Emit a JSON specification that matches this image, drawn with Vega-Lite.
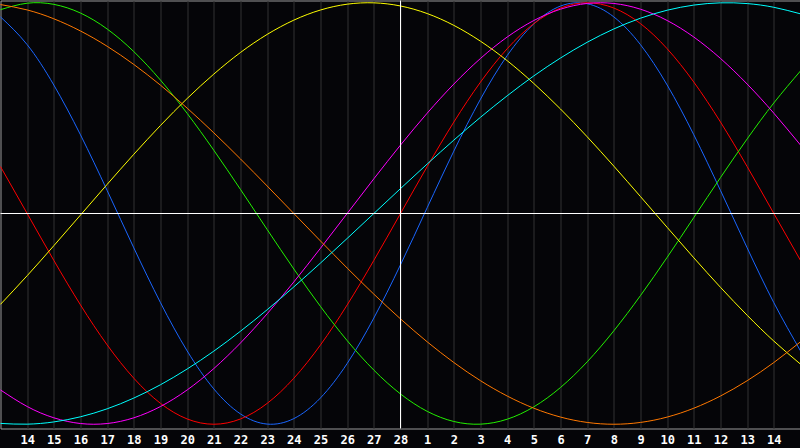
{
  "$schema": "https://vega.github.io/schema/vega-lite/v6.json",
  "autosize": "none",
  "padding": {"left": 0.5, "top": 0.5, "right": 0, "bottom": 19.5},
  "width": 800,
  "height": 428,
  "background": "#050508",
  "config": {
    "view": {"stroke": "#9a9a9a", "strokeWidth": 1, "fill": "#050508"},
    "axisX": {
      "title": null,
      "domain": false,
      "ticks": false,
      "tickSize": 0,
      "grid": true,
      "gridColor": "#333333",
      "gridOpacity": 1,
      "labelColor": "#ffffff",
      "labelFont": "DejaVu Sans Mono",
      "labelFontWeight": "bold",
      "labelFontSize": 12,
      "labelBaseline": "middle",
      "labelPadding": 11,
      "labelFlush": false,
      "labelOverlap": false
    }
  },
  "layer": [
    {
      "data": {
        "values": [
          {"day": 0, "Physical": 0.9327, "Emotional": 0.2225, "Intellectual": 0.9671, "Intuitive": -0.8372, "Aesthetic": -0.4310, "Awareness": 0.9914, "Spiritual": -0.9961},
          {"day": 1, "Physical": 0.8011, "Emotional": 0, "Intellectual": 0.9978, "Intuitive": -0.9158, "Aesthetic": -0.2951, "Awareness": 0.9659, "Spiritual": -0.9996},
          {"day": 2, "Physical": 0.6095, "Emotional": -0.2225, "Intellectual": 0.9924, "Intuitive": -0.9694, "Aesthetic": -0.1528, "Awareness": 0.9239, "Spiritual": -0.9890},
          {"day": 3, "Physical": 0.3732, "Emotional": -0.4339, "Intellectual": 0.9511, "Intuitive": -0.9966, "Aesthetic": -0.0073, "Awareness": 0.8660, "Spiritual": -0.9646},
          {"day": 4, "Physical": 0.1090, "Emotional": -0.6235, "Intellectual": 0.8754, "Intuitive": -0.9966, "Aesthetic": 0.1383, "Awareness": 0.7934, "Spiritual": -0.9267},
          {"day": 5, "Physical": -0.1632, "Emotional": -0.7818, "Intellectual": 0.7681, "Intuitive": -0.9694, "Aesthetic": 0.2811, "Awareness": 0.7071, "Spiritual": -0.8757},
          {"day": 6, "Physical": -0.4232, "Emotional": -0.9010, "Intellectual": 0.6328, "Intuitive": -0.9158, "Aesthetic": 0.4178, "Awareness": 0.6088, "Spiritual": -0.8125},
          {"day": 7, "Physical": -0.6521, "Emotional": -0.9749, "Intellectual": 0.4750, "Intuitive": -0.8372, "Aesthetic": 0.5457, "Awareness": 0.5, "Spiritual": -0.7378},
          {"day": 8, "Physical": -0.8324, "Emotional": -1, "Intellectual": 0.2999, "Intuitive": -0.7357, "Aesthetic": 0.6616, "Awareness": 0.3827, "Spiritual": -0.6530},
          {"day": 9, "Physical": -0.9511, "Emotional": -0.9749, "Intellectual": 0.1140, "Intuitive": -0.6142, "Aesthetic": 0.7641, "Awareness": 0.2588, "Spiritual": -0.5585},
          {"day": 10, "Physical": -0.9992, "Emotional": -0.9010, "Intellectual": -0.0760, "Intuitive": -0.4759, "Aesthetic": 0.8498, "Awareness": 0.1305, "Spiritual": -0.4566},
          {"day": 11, "Physical": -0.9732, "Emotional": -0.7818, "Intellectual": -0.2634, "Intuitive": -0.3247, "Aesthetic": 0.9175, "Awareness": 0, "Spiritual": -0.3482},
          {"day": 12, "Physical": -0.8750, "Emotional": -0.6235, "Intellectual": -0.4412, "Intuitive": -0.1646, "Aesthetic": 0.9656, "Awareness": -0.1305, "Spiritual": -0.2350},
          {"day": 13, "Physical": -0.7118, "Emotional": -0.4339, "Intellectual": -0.6032, "Intuitive": 0, "Aesthetic": 0.9932, "Awareness": -0.2588, "Spiritual": -0.1184},
          {"day": 14, "Physical": -0.4960, "Emotional": -0.2225, "Intellectual": -0.7431, "Intuitive": 0.1646, "Aesthetic": 0.9996, "Awareness": -0.3827, "Spiritual": 0},
          {"day": 15, "Physical": -0.2434, "Emotional": 0, "Intellectual": -0.8563, "Intuitive": 0.3247, "Aesthetic": 0.9847, "Awareness": -0.5, "Spiritual": 0.1182},
          {"day": 16, "Physical": 0.0273, "Emotional": 0.2225, "Intellectual": -0.9387, "Intuitive": 0.4759, "Aesthetic": 0.9488, "Awareness": -0.6088, "Spiritual": 0.2348},
          {"day": 17, "Physical": 0.2960, "Emotional": 0.4339, "Intellectual": -0.9869, "Intuitive": 0.6142, "Aesthetic": 0.8927, "Awareness": -0.7071, "Spiritual": 0.3482},
          {"day": 18, "Physical": 0.5427, "Emotional": 0.6235, "Intellectual": -0.9996, "Intuitive": 0.7357, "Aesthetic": 0.8175, "Awareness": -0.7934, "Spiritual": 0.4566},
          {"day": 19, "Physical": 0.7492, "Emotional": 0.7818, "Intellectual": -0.9761, "Intuitive": 0.8372, "Aesthetic": 0.7252, "Awareness": -0.8660, "Spiritual": 0.5585},
          {"day": 20, "Physical": 0.9000, "Emotional": 0.9010, "Intellectual": -0.9174, "Intuitive": 0.9158, "Aesthetic": 0.6168, "Awareness": -0.9239, "Spiritual": 0.6530},
          {"day": 21, "Physical": 0.9843, "Emotional": 0.9749, "Intellectual": -0.8256, "Intuitive": 0.9694, "Aesthetic": 0.4958, "Awareness": -0.9659, "Spiritual": 0.7378},
          {"day": 22, "Physical": 0.9954, "Emotional": 1, "Intellectual": -0.7039, "Intuitive": 0.9966, "Aesthetic": 0.3641, "Awareness": -0.9914, "Spiritual": 0.8125},
          {"day": 23, "Physical": 0.9328, "Emotional": 0.9749, "Intellectual": -0.5565, "Intuitive": 0.9966, "Aesthetic": 0.2246, "Awareness": -1, "Spiritual": 0.8757},
          {"day": 24, "Physical": 0.8010, "Emotional": 0.9010, "Intellectual": -0.3893, "Intuitive": 0.9694, "Aesthetic": 0.0802, "Awareness": -0.9914, "Spiritual": 0.9267},
          {"day": 25, "Physical": 0.6097, "Emotional": 0.7818, "Intellectual": -0.2079, "Intuitive": 0.9158, "Aesthetic": -0.0658, "Awareness": -0.9659, "Spiritual": 0.9646},
          {"day": 26, "Physical": 0.3733, "Emotional": 0.6235, "Intellectual": -0.0190, "Intuitive": 0.8372, "Aesthetic": -0.2103, "Awareness": -0.9239, "Spiritual": 0.9890},
          {"day": 27, "Physical": 0.1091, "Emotional": 0.4339, "Intellectual": 0.1706, "Intuitive": 0.7357, "Aesthetic": -0.3504, "Awareness": -0.8660, "Spiritual": 0.9996},
          {"day": 28, "Physical": -0.1631, "Emotional": 0.2225, "Intellectual": 0.3540, "Intuitive": 0.6142, "Aesthetic": -0.4829, "Awareness": -0.7934, "Spiritual": 0.9961},
          {"day": 29, "Physical": -0.4232, "Emotional": 0, "Intellectual": 0.5246, "Intuitive": 0.4759, "Aesthetic": -0.6054, "Awareness": -0.7071, "Spiritual": 0.9785},
          {"day": 30, "Physical": -0.6519, "Emotional": -0.2225, "Intellectual": 0.6764, "Intuitive": 0.3247, "Aesthetic": -0.7148, "Awareness": -0.6088, "Spiritual": 0.9473}
        ]
      },
      "transform": [
        {"fold": ["Physical", "Emotional", "Intellectual", "Intuitive", "Aesthetic", "Awareness", "Spiritual"], "as": ["series", "value"]}
      ],
      "mark": {"type": "line", "strokeWidth": 1, "interpolate": "natural"},
      "encoding": {
        "x": {
          "field": "day",
          "type": "quantitative",
          "scale": {"domain": [0, 30], "nice": false, "zero": false},
          "axis": {
            "values": [1, 2, 3, 4, 5, 6, 7, 8, 9, 10, 11, 12, 13, 14, 15, 16, 17, 18, 19, 20, 21, 22, 23, 24, 25, 26, 27, 28, 29],
            "labelExpr": "datum.value <= 15 ? datum.value + 13 : datum.value - 15"
          }
        },
        "y": {
          "field": "value",
          "type": "quantitative",
          "scale": {"domain": [-1.02017, 1.01068], "nice": false, "zero": false},
          "axis": null
        },
        "color": {
          "field": "series",
          "type": "nominal",
          "scale": {
            "domain": ["Physical", "Emotional", "Intellectual", "Intuitive", "Aesthetic", "Awareness", "Spiritual"],
            "range": ["#1a66ff", "#ff0000", "#22f000", "#ff00ff", "#ffff00", "#ff7800", "#00ffff"]
          },
          "legend": null
        }
      }
    },
    {
      "data": {"values": [{}]},
      "mark": {"type": "rule", "color": "#ffffff", "strokeWidth": 1},
      "encoding": {"y": {"datum": 0, "type": "quantitative", "axis": null}}
    },
    {
      "data": {"values": [{}]},
      "mark": {"type": "rule", "color": "#ffffff", "strokeWidth": 1},
      "encoding": {
        "x": {
          "datum": 15,
          "type": "quantitative",
          "axis": {
            "values": [1, 2, 3, 4, 5, 6, 7, 8, 9, 10, 11, 12, 13, 14, 15, 16, 17, 18, 19, 20, 21, 22, 23, 24, 25, 26, 27, 28, 29],
            "labelExpr": "datum.value <= 15 ? datum.value + 13 : datum.value - 15"
          }
        }
      }
    }
  ]
}
